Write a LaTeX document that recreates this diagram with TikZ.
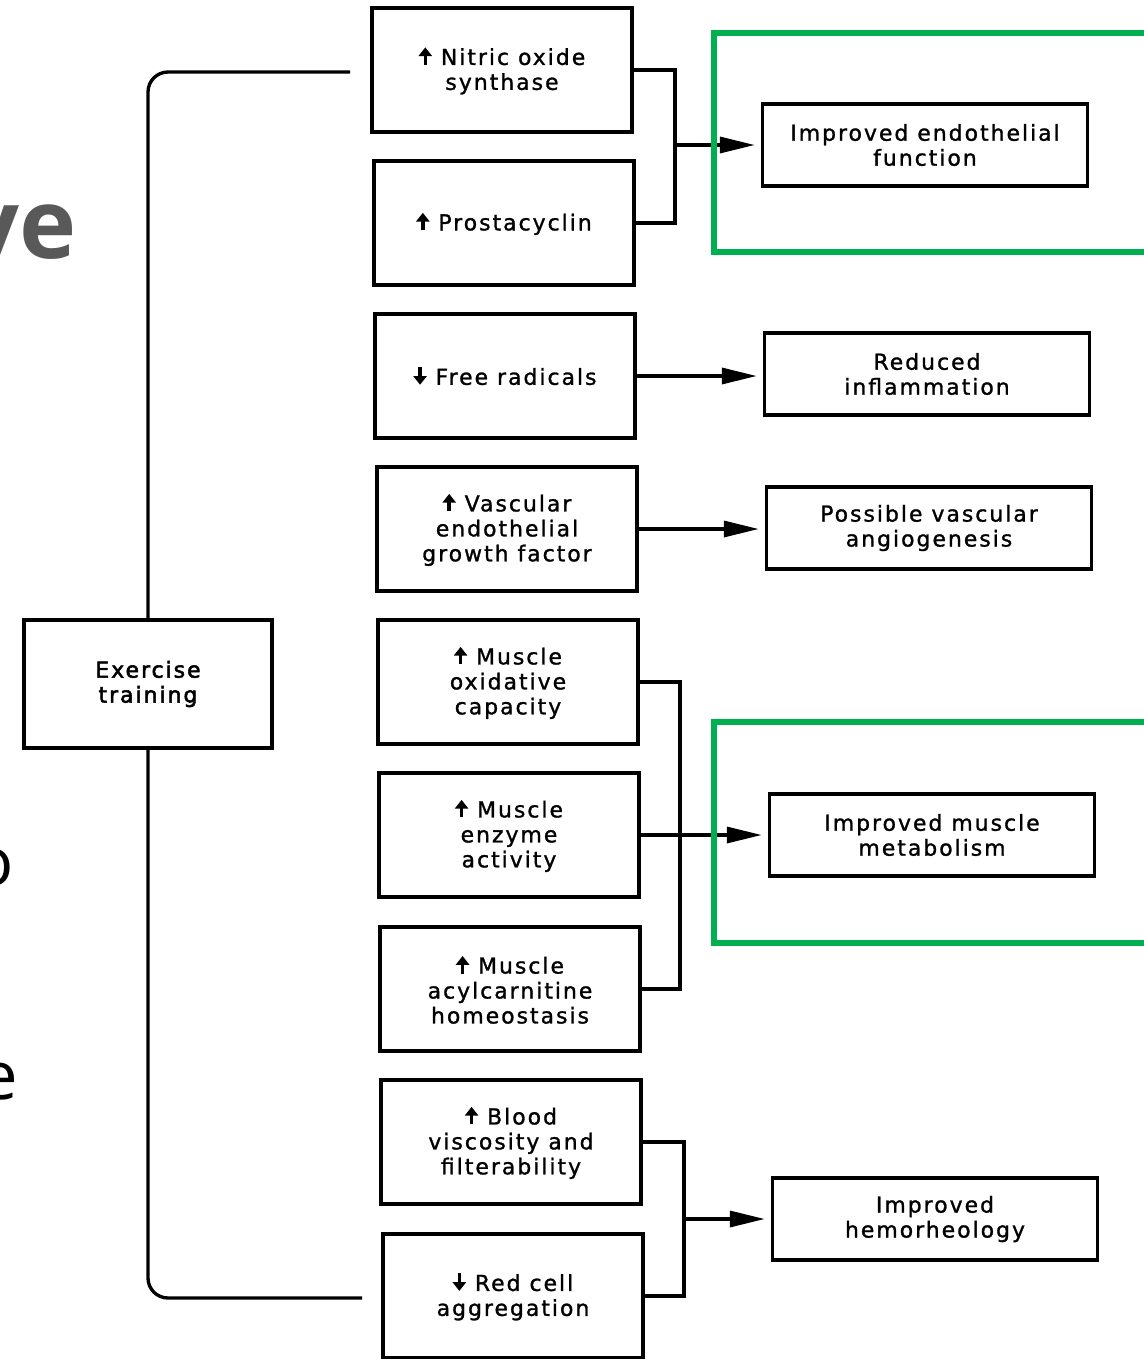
\documentclass[tikz,border=0pt]{standalone}
\usepackage{fontspec}
\setmainfont{DejaVu Sans}[LetterSpace=9,FakeBold=1.2]
\newfontfamily\heavyfont{DejaVu Sans}[LetterSpace=9,FakeBold=2.4]
\newfontfamily\slidefont{Open Sans}
\usetikzlibrary{arrows.meta}
\definecolor{frame}{HTML}{00B050}
\definecolor{slidegray}{HTML}{595959}
\newcommand{\upArr}{\tikz[baseline=0pt]\draw[line width=2pt,-{Triangle[length=5pt,width=7.5pt]}] (0pt,0pt) -- (0pt,10pt);\ }
\newcommand{\dnArr}{\tikz[baseline=0pt]\draw[line width=2pt,-{Triangle[length=5pt,width=7.5pt]}] (0pt,10pt) -- (0pt,0pt);\ }
\tikzset{
  box/.style={draw, line width=2pt, minimum width=5.2cm, minimum height=2.48cm,
    align=center, inner sep=0pt, font=\fontsize{12.5}{14.2}\selectfont},
  result/.style={box, minimum width=6.5cm, minimum height=1.64cm},
  link/.style={line width=1.9pt},
  feed/.style={link, -{Triangle[length=0.7cm,width=0.32cm]}, shorten >=0.12cm},
  greenFrame/.style={draw=frame, line width=3.4pt},
  slideBig/.style={anchor=base east, inner sep=0pt, text=slidegray,
    font=\slidefont\bfseries\fontsize{55}{60}\selectfont},
  slideSmall/.style={anchor=base east, inner sep=0pt, text=black,
    font=\slidefont\fontsize{38}{42}\selectfont}
}
\begin{document}
\begin{tikzpicture}[x=0.02cm,y=-0.02cm]
\useasboundingbox (0,0) rectangle (1143,1359);

% slide text behind the figure
\node[slideBig] (sl1) at (77,258) {ve};
\node[slideSmall] (sl2) at (14,885) {o};
\node[slideSmall] (sl3) at (18,1099) {e};

% exercise
\node[box, minimum width=4.96cm, minimum height=2.56cm,
  font=\heavyfont\fontsize{12.5}{14.2}\selectfont] (ex) at (148,684) {Exercise\\training};

% mediators
\node[box] (nos) at (502,70) {\upArr Nitric oxide\\synthase};
\node[box] (pgc) at (504,223) {\upArr Prostacyclin};
\node[box] (frr) at (505,376) {\dnArr Free radicals};
\node[box] (vgf) at (507,529) {\upArr Vascular\\endothelial\\growth factor};
\node[box] (mox) at (508,682) {\upArr Muscle\\oxidative\\capacity};
\node[box] (men) at (509,835) {\upArr Muscle\\enzyme\\activity};
\node[box] (mac) at (510,989) {\upArr Muscle\\acylcarnitine\\homeostasis};
\node[box] (bvf) at (511,1142) {\upArr Blood\\viscosity and\\filterability};
\node[box] (rca) at (513,1296) {\dnArr Red cell\\aggregation};

% outcomes
\node[result] (endo) at (925,145) {Improved endothelial\\function};
\node[result] (infl) at (927,374) {Reduced\\inflammation};
\node[result] (angio) at (929,528) {Possible vascular\\angiogenesis};
\node[result] (met) at (932,835) {Improved muscle\\metabolism};
\node[result] (hem) at (935,1219) {Improved\\hemorheology};

% bracket
\coordinate (topEnd) at (350,72);
\coordinate (botEnd) at (362,1298);
\draw[link, rounded corners=0.4cm] (ex.north) |- (topEnd);
\draw[link, rounded corners=0.4cm] (ex.south) |- (botEnd);

% connectors
\coordinate (jEndo) at (675,145);
\draw[link] (nos.east) -| (jEndo) |- (pgc.east);
\draw[feed] (jEndo) -- (jEndo -| endo.west);
\draw[feed] (frr.east) -- (frr.east -| infl.west);
\draw[feed] (vgf.east) -- (vgf.east -| angio.west);
\coordinate (jMus) at (680,835);
\draw[link] (mox.east) -| (jMus) |- (mac.east);
\draw[feed] (men.east) -- (men.east -| met.west);
\coordinate (jHem) at (684,1219);
\draw[link] (bvf.east) -| (jHem) |- (rca.east);
\draw[feed] (jHem) -- (jHem -| hem.west);

% green highlights
\draw[greenFrame] (714,33) rectangle (1160,252);
\draw[greenFrame] (714,722) rectangle (1160,943);
\end{tikzpicture}
\end{document}
